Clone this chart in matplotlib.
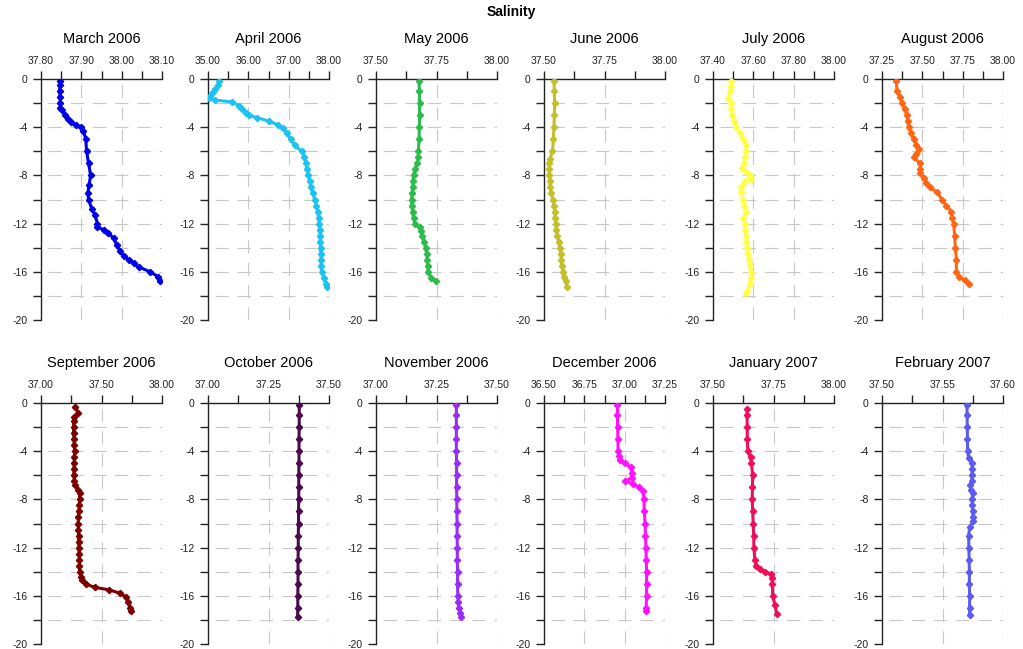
from matplotlib import pyplot as plt
from matplotlib.ticker import MultipleLocator, FormatStrFormatter

plt.rcParams['font.family'] = ['Liberation Sans', 'DejaVu Sans']
plt.rcParams['axes.unicode_minus'] = False

# (depth m, salinity) pairs
march_2006 = [(-0.2, 37.847), (-0.5, 37.847), (-1, 37.846), (-1.5, 37.847), (-2, 37.848), (-2.4, 37.848),
              (-2.6, 37.851), (-3.0, 37.860), (-3.3, 37.868), (-3.6, 37.875), (-3.8, 37.886), (-4.0, 37.899),
              (-4.3, 37.905), (-5, 37.911), (-6, 37.913), (-7, 37.918), (-8, 37.923), (-8.8, 37.919),
              (-9.5, 37.916), (-10, 37.918), (-10.8, 37.926), (-11.3, 37.934), (-12, 37.940), (-12.3, 37.940),
              (-12.5, 37.955), (-12.8, 37.967), (-13.2, 37.980), (-13.8, 37.988), (-14.3, 37.996), (-14.7, 38.005),
              (-15.0, 38.017), (-15.3, 38.030), (-15.6, 38.042), (-16.0, 38.071), (-16.4, 38.090), (-16.8, 38.094)]
april_2006 = [(-0.2, 35.27), (-0.5, 35.25), (-0.8, 35.18), (-1.1, 35.12), (-1.4, 35.04), (-1.6, 35.02),
              (-1.75, 35.18), (-1.9, 35.60), (-2.2, 35.76), (-2.5, 35.85), (-2.8, 35.95), (-3.0, 36.01),
              (-3.2, 36.21), (-3.5, 36.51), (-3.8, 36.74), (-4.1, 36.86), (-4.5, 36.95), (-5.0, 37.05),
              (-5.5, 37.15), (-6.0, 37.32), (-6.5, 37.39), (-7.0, 37.43), (-7.5, 37.46), (-8.0, 37.49),
              (-8.5, 37.52), (-9.0, 37.55), (-9.5, 37.60), (-10.0, 37.65), (-10.5, 37.69), (-11.0, 37.72),
              (-11.5, 37.74), (-12.0, 37.76), (-12.5, 37.77), (-13.0, 37.78), (-13.5, 37.78), (-14.0, 37.79),
              (-14.5, 37.80), (-15.0, 37.80), (-15.5, 37.81), (-16.0, 37.82), (-16.5, 37.87), (-17.0, 37.92),
              (-17.3, 37.94)]
may_2006 = [(-0.2, 37.678), (-1, 37.679), (-2, 37.680), (-3, 37.680), (-4, 37.679), (-5, 37.678),
            (-6, 37.675), (-6.5, 37.674), (-7, 37.671), (-7.5, 37.660), (-8, 37.655), (-8.5, 37.653),
            (-9, 37.651), (-9.5, 37.649), (-10, 37.647), (-10.5, 37.648), (-11, 37.651), (-11.5, 37.655),
            (-12, 37.660), (-12.3, 37.681), (-12.6, 37.684), (-13, 37.692), (-13.5, 37.699), (-14, 37.705),
            (-14.5, 37.709), (-15, 37.712), (-15.5, 37.714), (-16, 37.715), (-16.5, 37.729), (-16.8, 37.748)]
june_2006 = [(-0.2, 37.541), (-1, 37.543), (-2, 37.544), (-3, 37.543), (-4, 37.541), (-5, 37.539),
             (-6, 37.535), (-6.6, 37.525), (-7, 37.521), (-7.5, 37.521), (-8, 37.522), (-8.5, 37.524),
             (-9, 37.526), (-9.5, 37.530), (-10, 37.537), (-10.5, 37.541), (-11, 37.544), (-11.5, 37.546),
             (-12, 37.548), (-12.5, 37.551), (-13, 37.555), (-13.5, 37.560), (-14, 37.565), (-14.5, 37.569),
             (-15, 37.572), (-15.5, 37.575), (-16, 37.579), (-16.4, 37.584), (-16.8, 37.590), (-17.3, 37.595)]
july_2006 = [(-0.2, 37.491), (-0.6, 37.487), (-1, 37.483), (-1.6, 37.475), (-2, 37.491), (-2.5, 37.488),
             (-3, 37.496), (-3.5, 37.503), (-4, 37.513), (-4.5, 37.533), (-5, 37.549), (-5.5, 37.563),
             (-6, 37.563), (-6.5, 37.560), (-7, 37.554), (-7.4, 37.546), (-7.7, 37.563), (-8, 37.582),
             (-8.3, 37.587), (-8.5, 37.558), (-9, 37.541), (-9.4, 37.538), (-10, 37.549), (-10.5, 37.556),
             (-11, 37.566), (-11.5, 37.549), (-12, 37.558), (-12.5, 37.560), (-13, 37.563), (-13.5, 37.566),
             (-14, 37.569), (-14.5, 37.574), (-15, 37.579), (-15.5, 37.583), (-16, 37.587), (-16.5, 37.586),
             (-17, 37.582), (-17.6, 37.571), (-17.8, 37.566)]
august_2006 = [(-0.2, 37.339), (-1, 37.343), (-1.5, 37.360), (-2, 37.374), (-2.5, 37.390), (-3, 37.405),
               (-3.5, 37.409), (-4, 37.415), (-4.5, 37.430), (-5, 37.446), (-5.5, 37.463), (-5.8, 37.477),
               (-6.2, 37.463), (-6.5, 37.450), (-7, 37.483), (-7.5, 37.488), (-7.8, 37.483), (-8.2, 37.508),
               (-8.6, 37.525), (-9, 37.550), (-9.4, 37.591), (-10, 37.622), (-10.5, 37.649), (-11, 37.680),
               (-11.5, 37.684), (-12, 37.694), (-13, 37.700), (-14, 37.705), (-15, 37.711), (-16, 37.711),
               (-16.4, 37.725), (-16.7, 37.767), (-17, 37.787)]
september_2006 = [(-0.3, 37.285), (-0.8, 37.305), (-1.2, 37.274), (-1.5, 37.270), (-2, 37.269), (-2.5, 37.270),
                  (-3, 37.272), (-3.5, 37.275), (-4, 37.277), (-4.5, 37.276), (-5, 37.274), (-5.5, 37.272),
                  (-6, 37.271), (-6.5, 37.276), (-6.8, 37.285), (-7.2, 37.305), (-7.5, 37.319), (-8, 37.319),
                  (-8.5, 37.316), (-9, 37.312), (-9.5, 37.309), (-10, 37.307), (-10.5, 37.309), (-11, 37.311),
                  (-11.5, 37.312), (-12, 37.313), (-12.5, 37.314), (-13, 37.316), (-13.5, 37.317), (-14, 37.319),
                  (-14.4, 37.328), (-14.7, 37.341), (-15, 37.368), (-15.3, 37.443), (-15.5, 37.562),
                  (-15.8, 37.657), (-16.1, 37.701), (-16.5, 37.720), (-17, 37.734), (-17.3, 37.742)]
october_2006 = [(-0.2, 37.377), (-1, 37.377), (-2, 37.377), (-3, 37.376), (-4, 37.376), (-5, 37.376),
                (-6, 37.375), (-7, 37.375), (-8, 37.375), (-9, 37.374), (-10, 37.374), (-11, 37.373),
                (-12, 37.373), (-13, 37.372), (-14, 37.372), (-15, 37.372), (-16, 37.371), (-17, 37.371),
                (-17.8, 37.370)]
november_2006 = [(-0.2, 37.332), (-1, 37.332), (-2, 37.332), (-3, 37.332), (-4, 37.332), (-5, 37.333),
                 (-6, 37.333), (-7, 37.333), (-8, 37.334), (-9, 37.334), (-10, 37.335), (-11, 37.335),
                 (-12, 37.336), (-13, 37.336), (-14, 37.337), (-15, 37.337), (-16, 37.338), (-16.5, 37.339),
                 (-17, 37.342), (-17.4, 37.346), (-17.8, 37.351)]
december_2006 = [(-0.2, 36.954), (-1, 36.955), (-2, 36.956), (-3, 36.958), (-4, 36.960), (-4.4, 36.963),
                 (-4.7, 36.970), (-5.0, 37.001), (-5.3, 37.037), (-5.8, 37.047), (-6.2, 37.043), (-6.5, 37.005),
                 (-6.7, 37.053), (-7.0, 37.090), (-7.3, 37.115), (-8, 37.119), (-9, 37.122), (-10, 37.126),
                 (-11, 37.129), (-12, 37.132), (-13, 37.134), (-14, 37.136), (-15, 37.136), (-16, 37.136),
                 (-17, 37.133), (-17.3, 37.132)]
january_2007 = [(-0.5, 37.641), (-1, 37.641), (-2, 37.641), (-3, 37.642), (-4, 37.644), (-4.5, 37.655),
                (-5, 37.659), (-6, 37.664), (-7, 37.663), (-8, 37.662), (-9, 37.664), (-10, 37.666),
                (-11, 37.668), (-12, 37.669), (-13, 37.673), (-13.5, 37.678), (-13.8, 37.696), (-14.0, 37.714),
                (-14.2, 37.738), (-14.5, 37.744), (-15, 37.745), (-16, 37.747), (-16.8, 37.756), (-17.5, 37.764)]
february_2007 = [(-0.2, 37.5702), (-1, 37.5703), (-2, 37.5705), (-3, 37.5706), (-4, 37.5708), (-4.6, 37.5716),
                 (-5.0, 37.5744), (-5.5, 37.5745), (-6, 37.5744), (-6.5, 37.5740), (-6.8, 37.5730),
                 (-7.2, 37.5738), (-7.5, 37.5749), (-8, 37.5744), (-8.5, 37.5747), (-9, 37.5749),
                 (-9.5, 37.5753), (-9.8, 37.5755), (-10.3, 37.5724), (-11, 37.5716), (-12, 37.5718),
                 (-13, 37.5720), (-14, 37.5722), (-15, 37.5722), (-16, 37.5724), (-17, 37.5724), (-17.6, 37.5724)]

months = ["March 2006", "April 2006", "May 2006", "June 2006", "July 2006", "August 2006",
          "September 2006", "October 2006", "November 2006", "December 2006", "January 2007", "February 2007"]
profiles = [march_2006, april_2006, may_2006, june_2006, july_2006, august_2006,
            september_2006, october_2006, november_2006, december_2006, january_2007, february_2007]

# x axis: (min, max, labelled step)
x_axes = [(37.80, 38.10, 0.10), (35.0, 38.0, 1.0), (37.50, 38.00, 0.25), (37.50, 38.00, 0.25),
          (37.40, 38.00, 0.20), (37.25, 38.00, 0.25), (37.00, 38.00, 0.50), (37.00, 37.50, 0.25),
          (37.00, 37.50, 0.25), (36.50, 37.25, 0.25), (37.50, 38.00, 0.25), (37.50, 37.60, 0.05)]

colors = ['#0000e6', '#1cc3f2', '#2dbb4c', '#c2c026', '#ffff4a', '#ff6512',
          '#7d0000', '#4a0b4c', '#9a2cf6', '#ff10ff', '#ef0f58', '#5b5bef']

fig = plt.figure(figsize=(10.23, 6.49), dpi=100)
W, H = 1023.0, 649.0
lefts = [41, 208, 376, 544, 713, 882]
row_top = [79, 403]
ax_w, ax_h = 121, 241

for i in range(12):
    row, col = i // 6, i % 6
    ax = fig.add_axes([lefts[col] / W, 1 - (row_top[row] + ax_h) / H, ax_w / W, ax_h / H])
    depth = [p[0] for p in profiles[i]]
    sal = [p[1] for p in profiles[i]]
    xmin, xmax, step = x_axes[i]

    ax.plot(sal, depth, color=colors[i], lw=2.2, marker='D', ms=3.2, mec=colors[i], zorder=3)

    ax.set_xlim(xmin, xmax)
    ax.set_ylim(-20, 0)
    ax.xaxis.set_major_locator(MultipleLocator(step))
    ax.xaxis.set_minor_locator(MultipleLocator(step / 2))
    ax.xaxis.set_major_formatter(FormatStrFormatter('%.2f'))
    ax.yaxis.set_major_locator(MultipleLocator(4))
    ax.yaxis.set_minor_locator(MultipleLocator(2))
    ax.yaxis.set_major_formatter(FormatStrFormatter('%d'))
    ax.xaxis.tick_top()

    for s in ['bottom', 'right']:
        ax.spines[s].set_visible(False)
    for s in ['top', 'left']:
        ax.spines[s].set_color('#222222')
        ax.spines[s].set_linewidth(1.0)
    ax.tick_params(which='both', direction='out', length=5.5, width=1.0, color='#222222',
                   labelsize=7.5, labelcolor='#222222', pad=4)

    # dashed grid at labelled salinity values and every 2 m
    for xv in ax.get_xticks():
        if xmin + 1e-9 < xv <= xmax + 1e-9:
            ax.axvline(xv, color='#c8c8c8', lw=0.8, ls=(0, (12, 8)), zorder=1)
    for yv in range(-18, 0, 2):
        ax.axhline(yv, xmin=0.06, color='#c8c8c8', lw=0.8, ls=(0, (12, 8)), zorder=1)

    ax.text(0.5, 1.165, months[i], transform=ax.transAxes, ha='center', va='center', fontsize=10.5)

fig.text(0.5, 1 - 12 / H, "Salinity", ha='center', va='center', fontsize=10, fontweight='bold')

plt.savefig('out.png', dpi=100)
